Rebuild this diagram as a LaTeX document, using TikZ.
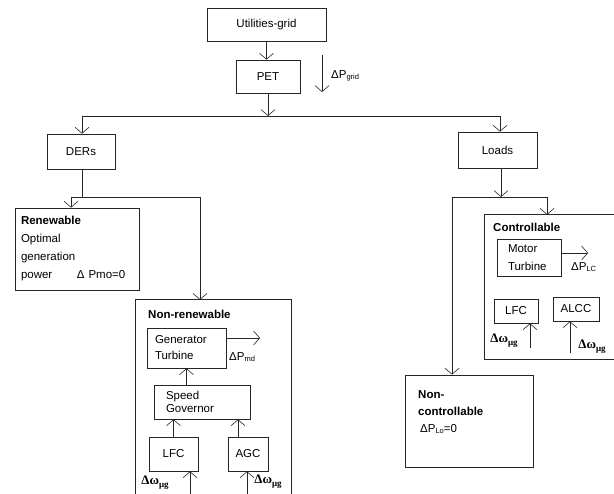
\documentclass[tikz,border=0pt]{standalone}
\usepackage{amsmath}
\usepackage{fontspec}
\setmainfont{Liberation Sans}
\newfontfamily\grserif{Liberation Serif}
\usetikzlibrary{positioning,arrows.meta}
\newcommand{\dpsub}[1]{ΔP\raisebox{-1.5pt}{\fontsize{7.5}{8}\selectfont #1}}
\newcommand{\dwmg}{{\grserif\bfseries Δω\raisebox{-3pt}{\fontsize{9}{10}\selectfont μg}}}

\begin{document}
\begin{tikzpicture}[x=1pt,y=-1pt,font=\fontsize{11.5}{14}\selectfont,
    box/.style={draw=black!85,line width=0.7pt,inner sep=0pt},
    arr/.style={draw=black!85,line width=0.6pt,-{Straight Barb[length=6pt,width=14pt]}},
    ln/.style={draw=black!85,line width=0.6pt},
    hd/.style={anchor=west,inner sep=0pt,font=\fontsize{11.5}{14}\selectfont\bfseries},
    dw/.style={inner sep=0pt,font=\fontsize{13}{14}\selectfont}]
    \useasboundingbox (0,0) rectangle (614,494);
    \node[box,minimum width=119pt,minimum height=33pt] (grid) at (266.5,24.5) {Utilities-grid};
    \node[box,minimum width=64pt,minimum height=33pt] (pet) at (268,76.5) {PET};
    \node[box,minimum width=68pt,minimum height=35pt] (ders) at (81,151.5) {DERs};
    \node[box,minimum width=79pt,minimum height=36pt] (loads) at (497.5,150) {Loads};
    \node[box,minimum height=82pt,text width=112pt,inner xsep=6pt,align=left,
      font=\fontsize{11.5}{18}\selectfont] (renew) at (77,249)
      {\textbf{Renewable}\\Optimal\\generation\\\makebox[56pt][l]{power}Δ Pmo=0};
    \node[minimum width=155pt,minimum height=194pt,inner sep=0pt] (nonren) at (213.5,397) {};
    \node[hd] (nonrenlbl) at (148,314) {Non-renewable};
    \node[box,minimum height=40pt,text width=63pt,inner xsep=8pt,align=left,
      font=\fontsize{11.5}{16}\selectfont] (gen) at (186.5,348) {Generator\\Turbine};
    \node[box,minimum height=34pt,text width=72pt,inner xsep=12pt,align=left,
      font=\fontsize{11.5}{13.5}\selectfont] (gov) at (202,402) {Speed\\Governor};
    \node[box,minimum width=49pt,minimum height=34pt] (lfca) at (173.5,454) {LFC};
    \node[box,minimum width=40pt,minimum height=34pt] (agc) at (248,454) {AGC};
    \node[minimum width=129pt,minimum height=144pt,inner sep=0pt] (ctrl) at (549.5,287) {};
    \node[hd] (ctrllbl) at (493,227) {Controllable};
    \node[box,minimum height=37pt,text width=42pt,inner xsep=11pt,align=left,
      font=\fontsize{11.5}{18}\selectfont] (motor) at (529,257.5) {Motor\\Turbine};
    \node[box,minimum width=44pt,minimum height=24pt] (lfcb) at (516,311) {LFC};
    \node[box,minimum width=46pt,minimum height=24pt] (alcc) at (576,309) {ALCC};
    \node[box,minimum width=128pt,minimum height=92pt] (nonctrl) at (469,421) {};
    \node[anchor=west,align=left,inner sep=0pt,font=\fontsize{11.5}{17}\selectfont] (nonctrllbl)
      at (418,412) {\textbf{Non-}\\\textbf{controllable}\\\hspace*{2pt}\dpsub{Lo}=0};
    \draw[box] (nonren.south west) |- (nonren.north east) -- (nonren.south east);
    \draw[box] (ctrl.north east) -| (ctrl.south west) -- (ctrl.south east);
    \coordinate (pgtop) at (322,55);
    \coordinate (pgbot) at (322,92);
    \coordinate (busL) at (82,116);
    \coordinate (busR) at (500,116);
    \coordinate (derL) at (71,197);
    \coordinate (derR) at (200,197);
    \coordinate (loadL) at (452,197);
    \coordinate (loadM) at (501,197);
    \coordinate (loadR) at (547,197);
    \coordinate (pmd) at (260,338);
    \coordinate (plc) at (588,253);
    \coordinate (wa) at (190,494);
    \coordinate (wb) at (247,494);
    \coordinate (wc) at (530,348);
    \coordinate (wd) at (570,353);
    \draw[arr] (grid.south) -- (grid.south |- pet.north);
    \draw[arr] (pgtop) -- (pgbot);
    \node[anchor=west,inner sep=0pt] (pglbl) at (331,76) {\dpsub{grid}};
    \draw[arr] (pet.south) -- (pet.south |- busL);
    \draw[ln] (busL) -- (busR);
    \draw[arr] (busL) -- (busL |- ders.north);
    \draw[arr] (busR) -- (busR |- loads.north);
    \draw[ln] (busL |- ders.south) -- (busL |- derL);
    \draw[ln] (derL) -- (derR);
    \draw[arr] (derL) -- (derL |- renew.north);
    \draw[arr] (derR) -- (derR |- nonren.north);
    \draw[arr] (loadM |- loads.south) -- (loadM);
    \draw[ln] (loadL) -- (loadR);
    \draw[arr] (loadR) -- (loadR |- ctrl.north);
    \draw[arr] (loadL) -- (loadL |- nonctrl.north);
    \draw[arr] (gen.east |- pmd) -- (pmd);
    \node[anchor=west,inner sep=0pt] (pmdlbl) at (229,357) {\dpsub{md}};
    \draw[arr] (gov.north -| gen.south) -- (gen.south);
    \draw[arr] (lfca.north) -- (lfca.north |- gov.south);
    \draw[arr] ([xshift=-10pt]agc.north) -- ([xshift=-10pt]agc.north |- gov.south);
    \draw[arr] (wa) -- (wa |- lfca.south);
    \draw[arr] (wb) -- (wb |- agc.south);
    \node[dw] (walbl) at (155,483) {\dwmg};
    \node[dw] (wblbl) at (268,482) {\dwmg};
    \draw[arr] (motor.east |- plc) -- (plc);
    \node[anchor=west,inner sep=0pt] (plclbl) at (571,267) {\dpsub{LC}};
    \draw[arr] (wc) -- (wc |- lfcb.south);
    \draw[arr] (wd) -- (wd |- alcc.south);
    \node[dw] (wclbl) at (504,341) {\dwmg};
    \node[dw] (wdlbl) at (592,347) {\dwmg};
\end{tikzpicture}
\end{document}
